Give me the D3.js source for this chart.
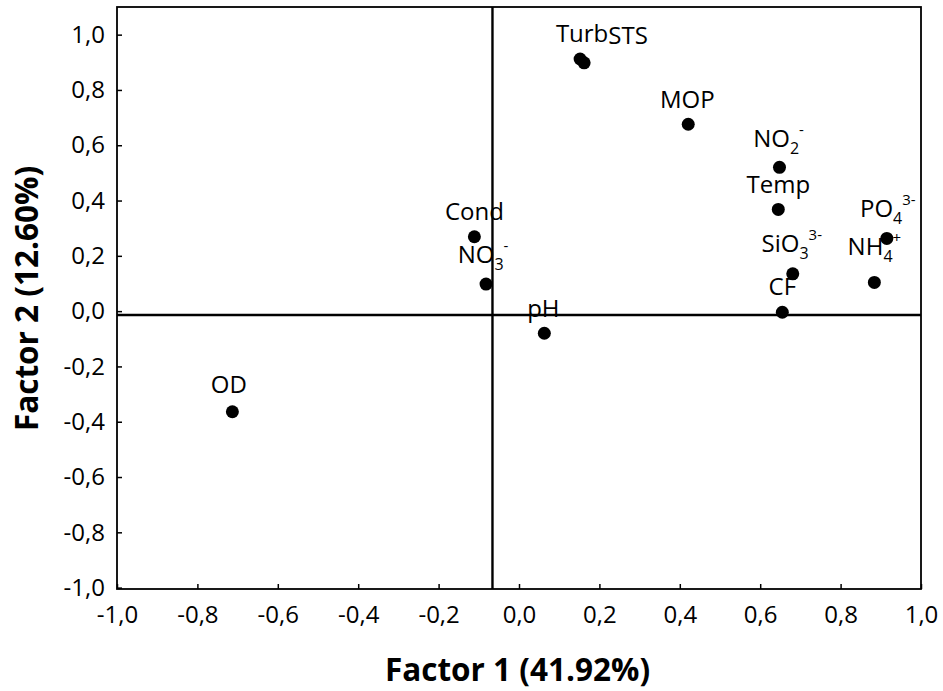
<!DOCTYPE html>
<html>
<head>
<meta charset="utf-8">
<script src="https://cdn.jsdelivr.net/npm/d3@7/dist/d3.min.js"></script>
<style>
  html, body { margin: 0; padding: 0; background: #fff; }
  svg { display: block; }
  text { font-family: "Open Sans", "DejaVu Sans", sans-serif; fill: #000; }
</style>
</head>
<body>
<svg id="chart" width="943" height="691"></svg>
<script>
// ---- data ----
const variables = ["Turb", "STS", "MOP", "NO2", "Temp", "PO4", "SiO3", "NH4", "CF", "Cond", "NO3", "pH", "OD"];
const factor1   = [0.152, 0.162, 0.421, 0.648, 0.645, 0.915, 0.681, 0.884, 0.655, -0.111, -0.082, 0.063, -0.713];
const factor2   = [0.912, 0.898, 0.676, 0.520, 0.368, 0.263, 0.135, 0.104, -0.004, 0.269, 0.098, -0.080, -0.364];
// label pieces: [main, subscript, superscript]
const labelMain = ["Turb", "STS", "MOP", "NO", "Temp", "PO", "SiO", "NH", "CF", "Cond", "NO", "pH", "OD"];
const labelSub  = ["", "", "", "2", "", "4", "3", "4", "", "", "3", "", ""];
const labelSup  = ["", "", "", "-", "", "3-", "3-", "+", "", "", "-", "", ""];
const meanLineX = [-0.066];
const meanLineY = [-0.014];
const xTickValues = [-1.0, -0.8, -0.6, -0.4, -0.2, 0.0, 0.2, 0.4, 0.6, 0.8, 1.0];
const xTickLabels = ["-1,0", "-0,8", "-0,6", "-0,4", "-0,2", "0,0", "0,2", "0,4", "0,6", "0,8", "1,0"];
const yTickValues = [-1.0, -0.8, -0.6, -0.4, -0.2, 0.0, 0.2, 0.4, 0.6, 0.8, 1.0];
const yTickLabels = ["-1,0", "-0,8", "-0,6", "-0,4", "-0,2", "0,0", "0,2", "0,4", "0,6", "0,8", "1,0"];
const xTitle = "Factor 1 (41.92%)";
const yTitle = "Factor 2 (12.60%)";

// ---- layout ----
const L = 117, R = 921, T = 7, B = 589;
// label placement offsets (layout only) : [dx, dy] from point to label baseline centre
const labelOffset = {
  Turb: [2, -17], STS: [44, -18.5], MOP: [-1, -16], NO2: [-1, -20.5], Temp: [0, -16],
  PO4: [1, -21], SiO3: [-1, -21.7], NH4: [0, -27], CF: [0, -17], Cond: [0, -16.7],
  NO3: [-3, -21.3], pH: [-1, -16.6], OD: [-3.5, -18.3]
};

const svg = d3.select("#chart");
const x = d3.scaleLinear().domain([-1, 1]).range([L, R]);
const y = d3.scaleLinear().domain([-1.005, 1.1]).range([B, T]);

// axes
const xAxis = d3.axisBottom(x).tickValues(xTickValues)
  .tickFormat((d, i) => xTickLabels[i]).tickSizeInner(-5).tickSizeOuter(0).tickPadding(17);
const yAxis = d3.axisLeft(y).tickValues(yTickValues)
  .tickFormat((d, i) => yTickLabels[i]).tickSizeInner(-5).tickSizeOuter(0).tickPadding(12);

const gx = svg.append("g").attr("transform", `translate(0,${B})`).call(xAxis);
const gy = svg.append("g").attr("transform", `translate(${L},0)`).call(yAxis);
[gx, gy].forEach(g => {
  g.select(".domain").remove();
  g.selectAll(".tick line").attr("stroke", "#000").attr("stroke-width", 1.5);
  g.selectAll(".tick text").attr("font-size", 24).attr("font-family", "Open Sans").attr("fill", "#000");
});

// frame
svg.append("rect").attr("x", L).attr("y", T).attr("width", R - L).attr("height", B - T)
  .attr("fill", "none").attr("stroke", "#000").attr("stroke-width", 1.8);

// mean lines
svg.selectAll(".vline").data(meanLineX).join("line")
  .attr("x1", d => x(d)).attr("x2", d => x(d)).attr("y1", T).attr("y2", B)
  .attr("stroke", "#000").attr("stroke-width", 2.4);
svg.selectAll(".hline").data(meanLineY).join("line")
  .attr("x1", L).attr("x2", R).attr("y1", d => y(d)).attr("y2", d => y(d))
  .attr("stroke", "#000").attr("stroke-width", 2.4);

// points
const pts = variables.map((v, i) => ({ v, fx: factor1[i], fy: factor2[i], main: labelMain[i], sub: labelSub[i], sup: labelSup[i] }));

svg.selectAll(".pt").data(pts).join("circle")
  .attr("cx", d => x(d.fx)).attr("cy", d => y(d.fy)).attr("r", 6.5).attr("fill", "#000");

// labels
const lab = svg.selectAll(".lab").data(pts).join("text")
  .attr("x", d => x(d.fx) + labelOffset[d.v][0])
  .attr("y", d => y(d.fy) + labelOffset[d.v][1])
  .attr("text-anchor", "middle").attr("font-size", 24);
lab.each(function (d) {
  const t = d3.select(this);
  t.append("tspan").text(d.main);
  let shift = 0;
  if (d.sub) {
    t.append("tspan").attr("font-size", 16).attr("dy", 7).text(d.sub);
    shift = 7;
  }
  if (d.sup) {
    t.append("tspan").attr("font-size", 15).attr("dy", -shift - 12).text(d.sup);
  }
});

// titles
svg.append("text").attr("x", 517.5).attr("y", 681).attr("text-anchor", "middle")
  .attr("font-size", 31.5).attr("font-weight", 700).text(xTitle);
svg.append("text").attr("transform", "translate(38,298.5) rotate(-90)").attr("text-anchor", "middle")
  .attr("font-size", 31.5).attr("font-weight", 700).text(yTitle);
</script>
</body>
</html>
